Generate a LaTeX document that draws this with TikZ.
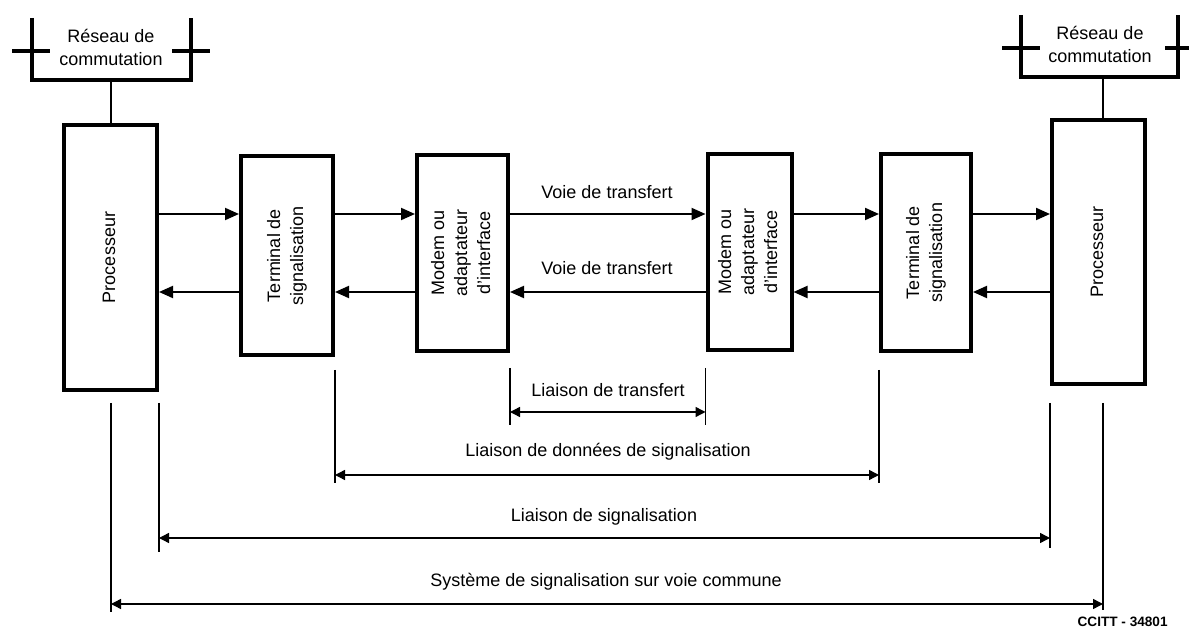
\documentclass[tikz,border=0pt]{standalone}
\usepackage{fontspec}
\setmainfont{Liberation Sans}
\usetikzlibrary{arrows.meta}
\newcommand{\vtexte}[1]{\rotatebox{90}{\begin{tabular}{@{}c@{}}#1\end{tabular}}}
\tikzset{
  bloc/.style={draw, line width=2pt, inner sep=0pt},
  fleche/.style={line width=1pt, -{Triangle[length=7pt,width=6pt]}},
  cote/.style={line width=.7pt},
  cotefl/.style={line width=.7pt, {Triangle[length=5pt,width=5pt]}-{Triangle[length=5pt,width=5pt]}},
  reseau/.style={line width=2pt},
}
\begin{document}
\begin{tikzpicture}[x=0.5pt, y=-0.5pt, font=\fontsize{9}{11.5}\selectfont]
\useasboundingbox (0,0) rectangle (1189,630);

\node[bloc, minimum width=46.5pt, minimum height=132.5pt] (proc1) at (110.5,257.5) {\vtexte{Processeur}};
\node[bloc, minimum width=46pt, minimum height=99.5pt] (term1) at (287,255.5) {\vtexte{Terminal de\\signalisation}};
\node[bloc, minimum width=45.5pt, minimum height=98pt] (modem1) at (462.5,253) {\vtexte{Modem ou\\adaptateur\\d’interface}};
\node[bloc, minimum width=42pt, minimum height=98pt] (modem2) at (749.5,252) {\vtexte{Modem ou\\adaptateur\\d’interface}};
\node[bloc, minimum width=45pt, minimum height=98.5pt] (term2) at (926,252.5) {\vtexte{Terminal de\\signalisation}};
\node[bloc, minimum width=46.5pt, minimum height=132pt] (proc2) at (1098.5,252) {\vtexte{Processeur}};

\coordinate (haut) at (0,214);
\coordinate (bas) at (0,292);
\foreach \a/\b in {proc1/term1, term1/modem1, modem1/modem2, modem2/term2, term2/proc2} {
  \draw[fleche] (\a.east |- haut) -- (\b.west |- haut);
  \draw[fleche] (\b.west |- bas) -- (\a.east |- bas);
}
\node (voie1) at (607,192) {Voie de transfert};
\node (voie2) at (607,268) {Voie de transfert};

\node[align=center] (res1) at (111,47) {Réseau de\\commutation};
\draw[reseau] (32,18) -- (32,80) -- (191,80) -- (191,18);
\draw[reseau] (12,51) -- (50,51) (172,51) -- (210,51);
\coordinate (res1b) at (111,80);
\draw[line width=1pt] (res1b) -- (res1b |- proc1.north);

\node[align=center] (res2) at (1100,44) {Réseau de\\commutation};
\draw[reseau] (1021,15) -- (1021,77) -- (1178,77) -- (1178,15);
\draw[reseau] (1002,48) -- (1040,48) (1165,48) -- (1189,48);
\coordinate (res2b) at (1103,77);
\draw[line width=1pt] (res2b) -- (res2b |- proc2.north);

\draw[cote] (modem1.east |- 0,368) -- ++(0,57) (modem2.west |- 0,368) -- ++(0,57);
\draw[cotefl] (modem1.east |- 0,412) -- (modem2.west |- 0,412);
\node (lt) at (608,390) {Liaison de transfert};

\draw[cote] (term1.east |- 0,370) -- ++(0,113) (term2.west |- 0,370) -- ++(0,113);
\draw[cotefl] (term1.east |- 0,475) -- (term2.west |- 0,475);
\node (lds) at (608,452) {Liaison de données de signalisation};

\draw[cote] (proc1.east |- 0,403) -- ++(0,149) (proc2.west |- 0,403) -- ++(0,145);
\draw[cotefl] (proc1.east |- 0,538) -- (proc2.west |- 0,538);
\node (ls) at (604,517) {Liaison de signalisation};

\draw[cote] (res1b |- 0,403) -- ++(0,209) (res2b |- 0,403) -- ++(0,207);
\draw[cotefl] (res1b |- 0,604) -- (res2b |- 0,604);
\node (ssvc) at (606,582) {Système de signalisation sur voie commune};

\node[anchor=east, inner sep=0pt, font=\fontsize{6.8}{8}\selectfont\bfseries] (ref) at (1168,622) {CCITT - 34801};
\end{tikzpicture}
\end{document}
